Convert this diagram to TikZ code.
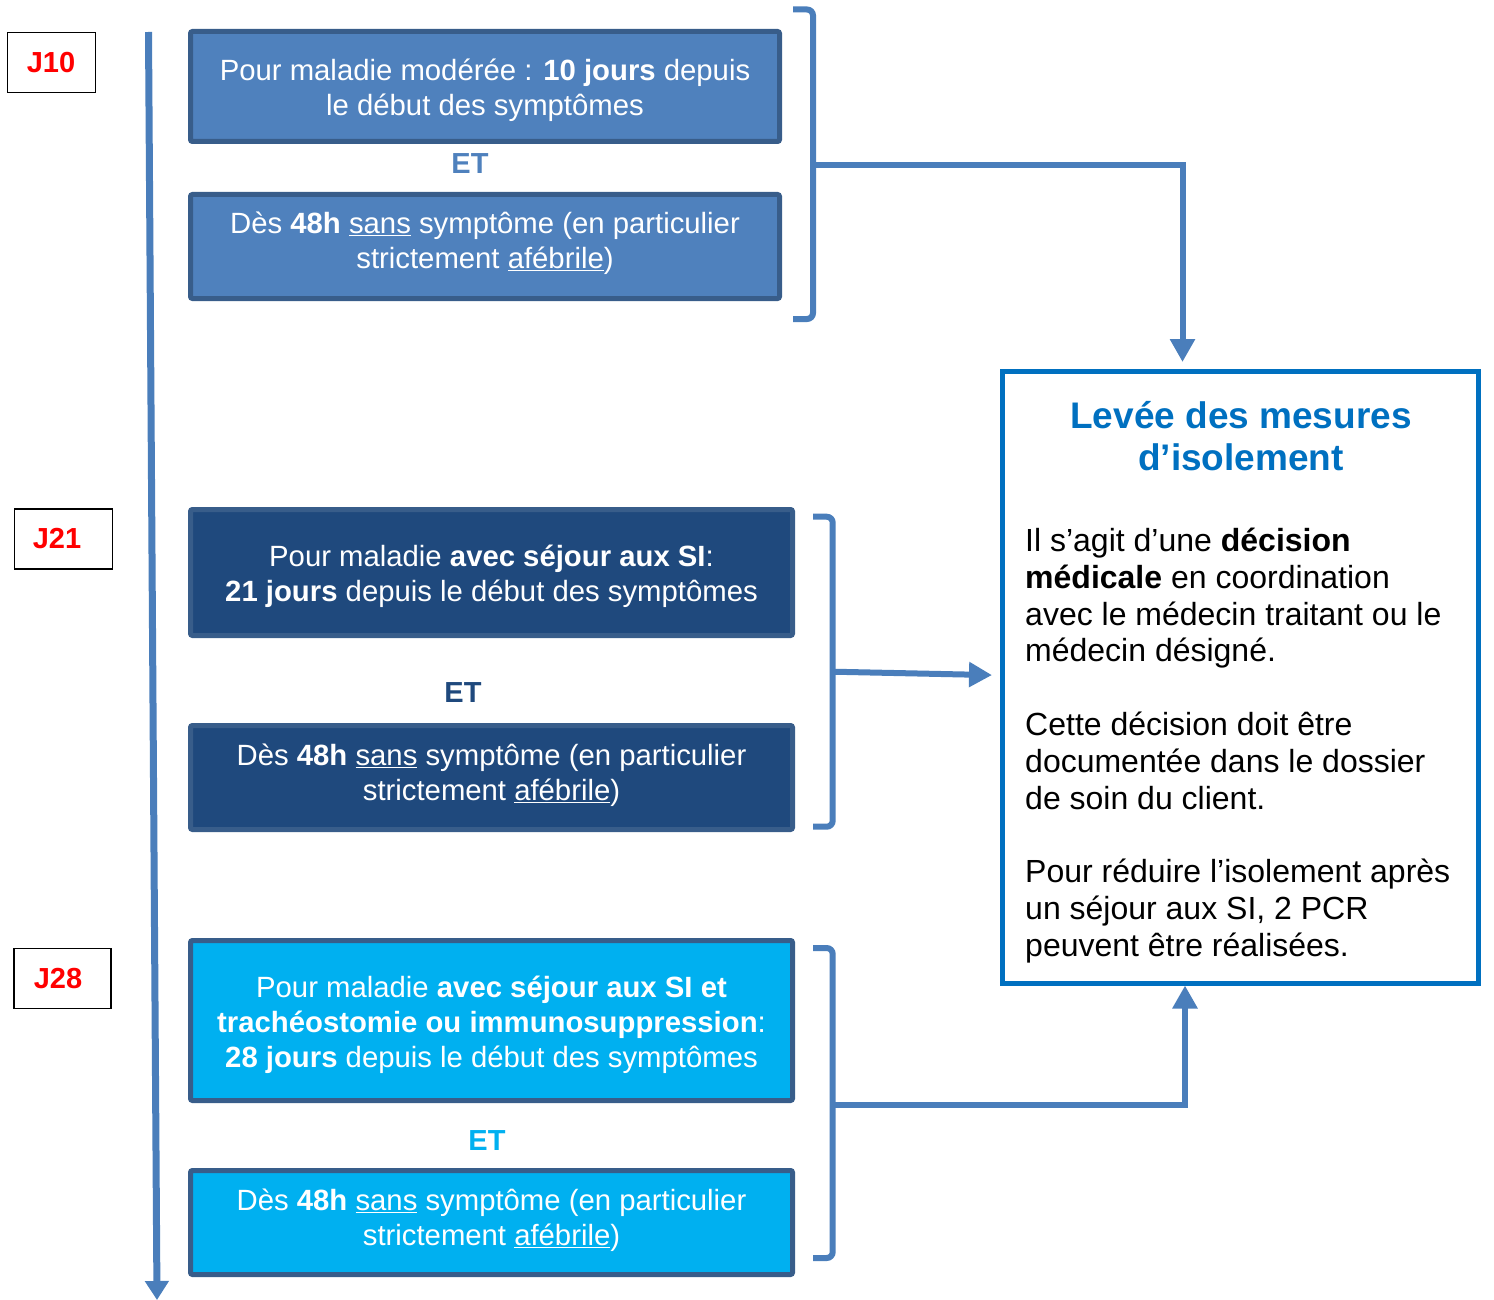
\documentclass[tikz,border=0pt]{standalone}
\usepackage{fontspec}
\setmainfont{Liberation Sans}
\usetikzlibrary{arrows.meta}
\definecolor{cA}{HTML}{4F81BD}
\definecolor{cB}{HTML}{1F497D}
\definecolor{cC}{HTML}{00B0F0}
\definecolor{bordc}{HTML}{385D8A}
\definecolor{connc}{HTML}{4A7EBB}
\definecolor{levc}{HTML}{0070C0}
\definecolor{jred}{HTML}{FF0000}
\tikzset{
  cbox/.style={draw=bordc, line width=5pt, rounded corners=2pt, inner sep=0pt},
  boxtxt/.style={text=white, align=center, inner sep=0pt, font=\fontsize{29.3}{35}\selectfont},
  jbox/.style={draw=black, line width=1.3pt, inner sep=0pt, minimum height=60pt},
  jtxt/.style={text=jred, inner sep=0pt, font=\fontsize{29}{34}\selectfont\bfseries},
  ettxt/.style={inner sep=0pt, font=\fontsize{29}{34}\selectfont\bfseries},
  brk/.style={draw=connc, line width=6pt, rounded corners=6pt},
  connline/.style={draw=connc, line width=6pt, -{Triangle[length=23pt,width=24pt]}},
}
\begin{document}
\begin{tikzpicture}[x=1pt,y=-1pt]
\useasboundingbox (0,0) rectangle (1494,1300);

% timeline
\coordinate (tl0) at (148.5,32);
\coordinate (tl1) at (157,1300);
\draw[draw=connc, line width=7pt, -{Triangle[length=19pt,width=23pt]}] (tl0) -- (tl1);

% day labels
\node[jbox, minimum width=88pt] (j10) at (51.5,62.5) {};
\node[jtxt] (j10t) at (51,63) {J10};
\node[jbox, minimum width=98pt] (j21) at (63.5,539) {};
\node[jtxt] (j21t) at (57,539) {J21};
\node[jbox, minimum width=97pt] (j28) at (62.5,978.5) {};
\node[jtxt] (j28t) at (58,979) {J28};

% group 1
\node[cbox, fill=cA, minimum width=589pt, minimum height=110pt] (b1) at (485,86.5) {};
\node[boxtxt] (t1) at (485,90.5) {Pour maladie modérée : \textbf{10 jours} depuis\\le début des symptômes};
\node[ettxt, text=cA] (et1) at (470,164) {ET};
\node[cbox, fill=cA, minimum width=589pt, minimum height=104pt] (b2) at (485,246.5) {};
\node[boxtxt] (t2) at (485,243.5) {Dès \textbf{48h} \underline{sans} symptôme (en particulier\\strictement \underline{afébrile})};

% group 2
\node[cbox, fill=cB, minimum width=602pt, minimum height=126pt] (b3) at (491.5,572.5) {};
\node[boxtxt] (t3) at (491.5,576.5) {Pour maladie \textbf{avec séjour aux SI}:\\\textbf{21 jours} depuis le début des symptômes};
\node[ettxt, text=cB] (et2) at (463,693) {ET};
\node[cbox, fill=cB, minimum width=602pt, minimum height=104pt] (b4) at (491.5,777.5) {};
\node[boxtxt] (t4) at (491.5,775) {Dès \textbf{48h} \underline{sans} symptôme (en particulier\\strictement \underline{afébrile})};

% group 3
\node[cbox, fill=cC, minimum width=602pt, minimum height=160pt] (b5) at (491.5,1020.5) {};
\node[boxtxt] (t5) at (491.5,1024.5) {Pour maladie \textbf{avec séjour aux SI et}\\\textbf{trachéostomie ou immunosuppression}:\\\textbf{28 jours} depuis le début des symptômes};
\node[ettxt, text=cC] (et3) at (487,1141) {ET};
\node[cbox, fill=cC, minimum width=602pt, minimum height=104pt] (b6) at (491.5,1222.5) {};
\node[boxtxt] (t6) at (491.5,1220) {Dès \textbf{48h} \underline{sans} symptôme (en particulier\\strictement \underline{afébrile})};

% big box
\node[draw=levc, line width=5pt, inner sep=0pt, minimum width=476pt, minimum height=611.5pt] (lev) at (1240.5,677.25) {};
\node[inner sep=0pt, text=levc, align=center, font=\fontsize{37}{42.7}\selectfont\bfseries] (levt) at (1241,436) {Levée des mesures\\d’isolement};
\node[inner sep=0pt, anchor=west, align=left, font=\fontsize{32}{36.8}\selectfont] (levb) at (1025,745.5) {Il s’agit d’une \textbf{décision}\\
\textbf{médicale} en coordination\\
avec le médecin traitant ou le\\
médecin désigné.\\[36.8pt]
Cette décision doit être\\
documentée dans le dossier\\
de soin du client.\\[36.8pt]
Pour réduire l’isolement après\\
un séjour aux SI, 2 PCR\\
peuvent être réalisées.};

% brackets
\coordinate (k1a) at (793,9.5);   \coordinate (k1b) at (813,9.5);
\coordinate (k1c) at (813,319);   \coordinate (k1d) at (793,319);
\coordinate (m1) at (813,165.3);
\draw[brk] (k1a) -- (k1b) -- (k1c) -- (k1d);

\coordinate (k2a) at (813,516.7); \coordinate (k2b) at (832.7,516.7);
\coordinate (k2c) at (832.7,826.7); \coordinate (k2d) at (813,826.7);
\coordinate (m2) at (832.7,671.7);
\draw[brk] (k2a) -- (k2b) -- (k2c) -- (k2d);

\coordinate (k3a) at (813,948); \coordinate (k3b) at (832.7,948);
\coordinate (k3c) at (832.7,1258); \coordinate (k3d) at (813,1258);
\coordinate (m3) at (832.7,1105);
\draw[brk] (k3a) -- (k3b) -- (k3c) -- (k3d);

% connectors
\draw[connline, shorten >=7pt] (m1) -| ([xshift=-58pt]lev.north);
\draw[connline, shorten >=8pt] (m2) -- ([yshift=2pt]lev.west);
\draw[connline] (m3) -| ([xshift=-55.5pt]lev.south);
\end{tikzpicture}
\end{document}
